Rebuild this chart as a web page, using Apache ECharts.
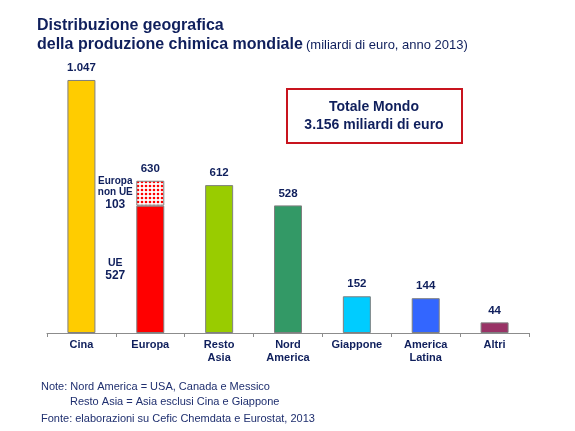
<!DOCTYPE html>
<html>
<head>
<meta charset="utf-8">
<script src="https://cdn.jsdelivr.net/npm/echarts@6/dist/echarts.min.js"></script>
<style>
html,body{margin:0;padding:0;background:#fff;}
#c{width:575px;height:431px;}
</style>
</head>
<body>
<div id="c"></div>
<script>
const categories = ['Cina', 'Europa', 'Resto\nAsia', 'Nord\nAmerica', 'Giappone', 'America\nLatina', 'Altri'];
const baseValues = [1047, 527, 612, 528, 152, 144, 44];
const nonUEValues = [null, 103, null, null, null, null, null];
const totals = [1047, 630, 612, 528, 152, 144, 44];
const barColors = ['#FFCC00', '#FF0000', '#99CC00', '#339966', '#00CCFF', '#3366FF', '#993366'];

const NAVY = '#0F1F5C';
const FONT = 'Liberation Sans, Arial, sans-serif';

function itFmt(v) { return String(v).replace(/\B(?=(\d{3})+(?!\d))/g, '.'); }

// dotted pattern for "Europa non UE"
const pc = document.createElement('canvas');
pc.width = 4; pc.height = 4;
const pctx = pc.getContext('2d');
pctx.fillStyle = '#ffffff';
pctx.fillRect(0, 0, 4, 4);
pctx.fillStyle = '#FF0000';
pctx.beginPath();
pctx.arc(2, 2, 1.3, 0, Math.PI * 2);
pctx.fill();

const chart = echarts.init(document.getElementById('c'), null, { renderer: 'canvas' });

const option = {
  animation: false,
  backgroundColor: '#ffffff',
  grid: { left: 47, right: 46, top: 43, bottom: 98 },
  xAxis: {
    type: 'category',
    data: categories,
    axisLine: { show: true, lineStyle: { color: '#8C8C8C', width: 1 } },
    axisTick: { show: true, length: 4, lineStyle: { color: '#8C8C8C' } },
    axisLabel: {
      color: NAVY, fontFamily: FONT, fontWeight: 'bold', fontSize: 11,
      lineHeight: 13, margin: 5, interval: 0
    }
  },
  yAxis: { type: 'value', show: false, min: 0, max: 1200 },
  series: [
    {
      type: 'bar',
      stack: 'tot',
      barWidth: 28,
      data: baseValues.map((v, i) => {
        const d = { value: v, itemStyle: { color: barColors[i] } };
        if (i === 1) {
          d.label = {
            show: true, position: 'left', distance: 21, align: 'center',
            formatter: '{a|UE}\n{b|527}',
            rich: {
              a: { fontSize: 10.5, fontWeight: 'bold', color: NAVY, fontFamily: FONT, lineHeight: 13, align: 'center' },
              b: { fontSize: 12, fontWeight: 'bold', color: NAVY, fontFamily: FONT, lineHeight: 13, align: 'center' }
            }
          };
        }
        return d;
      }),
      itemStyle: { borderColor: '#7F7F7F', borderWidth: 1 },
      label: { show: false }
    },
    {
      type: 'bar',
      stack: 'tot',
      barWidth: 28,
      data: nonUEValues.map((v, i) => {
        if (v == null) return v;
        return {
          value: v,
          label: {
            show: true, position: 'left', distance: 21, align: 'center',
            formatter: '{a|Europa}\n{a|non UE}\n{b|' + v + '}',
            rich: {
              a: { fontSize: 10, fontWeight: 'bold', color: NAVY, fontFamily: FONT, lineHeight: 11, align: 'center' },
              b: { fontSize: 12, fontWeight: 'bold', color: NAVY, fontFamily: FONT, lineHeight: 12, align: 'center' }
            }
          }
        };
      }),
      itemStyle: { color: { image: pc, repeat: 'repeat' }, borderColor: '#7F7F7F', borderWidth: 1 }
    },
    {
      type: 'scatter',
      symbolSize: 0,
      data: totals,
      silent: true,
      itemStyle: { opacity: 1 },
      label: {
        show: true, position: 'top', distance: 6, opacity: 1,
        color: NAVY, fontFamily: FONT, fontWeight: 'bold', fontSize: 11.5,
        formatter: p => itFmt(p.value)
      }
    }
  ],
  graphic: [
    { type: 'text', left: 37, top: 18, style: { text: 'Distribuzione geografica', font: 'bold 16px ' + FONT, fill: NAVY } },
    { type: 'text', left: 37, top: 37, style: { text: 'della produzione chimica mondiale', font: 'bold 16px ' + FONT, fill: NAVY } },
    { type: 'text', left: 306, top: 39, style: { text: '(miliardi di euro, anno 2013)', font: '13px ' + FONT, fill: NAVY } },
    { type: 'rect', shape: { x: 287, y: 89, width: 175, height: 54 }, style: { fill: '#ffffff', stroke: '#C8141E', lineWidth: 2 } },
    { type: 'text', x: 374, y: 107, style: { text: 'Totale Mondo', font: 'bold 14px ' + FONT, fill: NAVY, align: 'center', verticalAlign: 'middle' } },
    { type: 'text', x: 374, y: 125, style: { text: '3.156 miliardi di euro', font: 'bold 14px ' + FONT, fill: NAVY, align: 'center', verticalAlign: 'middle' } },
    { type: 'text', x: 41, y: 387, style: { text: 'Note: Nord America = USA, Canada e Messico', font: '11px ' + FONT, fill: '#1F2F6F', verticalAlign: 'middle' } },
    { type: 'text', x: 70, y: 402, style: { text: 'Resto Asia = Asia esclusi Cina e Giappone', font: '11px ' + FONT, fill: '#1F2F6F', verticalAlign: 'middle' } },
    { type: 'text', x: 41, y: 419, style: { text: 'Fonte: elaborazioni su Cefic Chemdata e Eurostat, 2013', font: '11px ' + FONT, fill: '#1F2F6F', verticalAlign: 'middle' } }
  ]
};
chart.setOption(option);
</script>
</body>
</html>
